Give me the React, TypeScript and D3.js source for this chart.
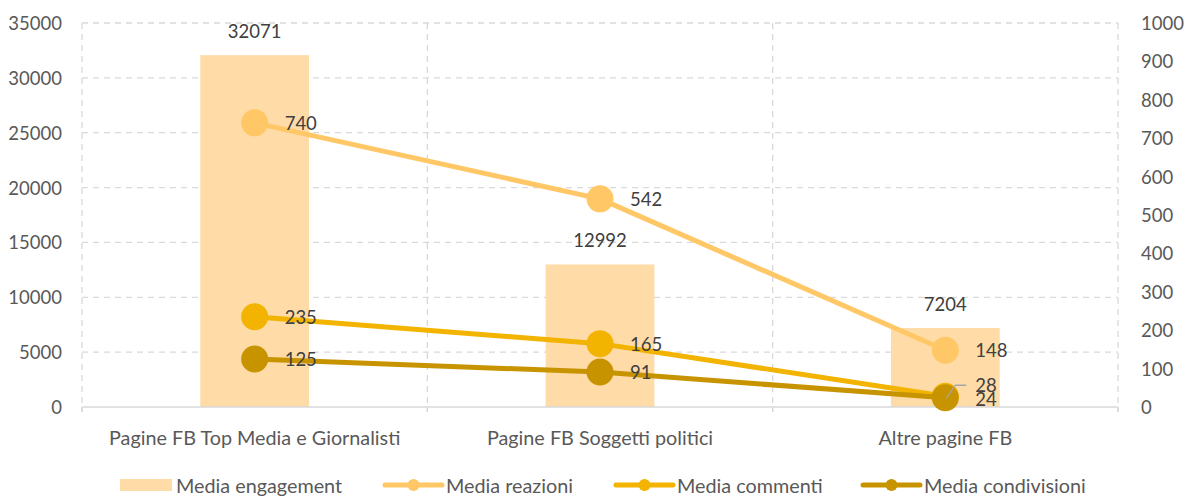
import React from "react";
import * as d3 from "d3";

const categories = ["Pagine FB Top Media e Giornalisti", "Pagine FB Soggetti politici", "Altre pagine FB"];
const engagement = [32071, 12992, 7204];
const reazioni = [740, 542, 148];
const commenti = [235, 165, 28];
const condivisioni = [125, 91, 24];
const leftTicks = [0, 5000, 10000, 15000, 20000, 25000, 30000, 35000];
const rightTicks = [0, 100, 200, 300, 400, 500, 600, 700, 800, 900, 1000];

const W = 1192, H = 496;
const M = { left: 82, right: 1118, top: 23, bottom: 407 };
const FONT = "Lato, 'Open Sans', sans-serif";
const NUM = 18.5;
const TXT = 19.8;
const C_BAR = "#FFDBA8";
const C_REA = "#FFC766";
const C_COM = "#F2B400";
const C_CON = "#C79400";

export default function App() {
  const x = d3.scaleBand<string>().domain(categories).range([M.left, M.right]).paddingInner(0).paddingOuter(0);
  const yL = d3.scaleLinear().domain([0, 35000]).range([M.bottom, M.top]);
  const yR = d3.scaleLinear().domain([0, 1000]).range([M.bottom, M.top]);
  const bw = x.bandwidth();
  const barW = bw * 0.315;
  const cx = (c: string) => (x(c) as number) + bw / 2;

  const series = [
    { name: "Media reazioni", vals: reazioni, color: C_REA },
    { name: "Media commenti", vals: commenti, color: C_COM },
    { name: "Media condivisioni", vals: condivisioni, color: C_CON },
  ];
  const line = d3.line<number>().x((_, i) => cx(categories[i])).y((v) => yR(v));

  const boundaries = [M.left, ...categories.map((c) => (x(c) as number) + bw)];

  return (
    <svg width={W} height={H} style={{ position: "absolute", left: 0, top: 0, background: "#fff" }}>
      {leftTicks.filter((t) => t > 0).map((t) => (
        <line key={t} x1={M.left} x2={M.right} y1={yL(t)} y2={yL(t)} stroke="#D9D9D9" strokeWidth={1.3} strokeDasharray="6,5" />
      ))}
      {boundaries.map((b, i) => (
        <line key={i} x1={b} x2={b} y1={M.top} y2={M.bottom + 5} stroke="#D9D9D9" strokeWidth={1.3} strokeDasharray="6,5" />
      ))}
      {categories.map((c, i) => (
        <rect key={c} x={cx(c) - barW / 2} y={yL(engagement[i])} width={barW} height={M.bottom - yL(engagement[i])} fill={C_BAR} />
      ))}
      <line x1={M.left} x2={M.right} y1={M.bottom} y2={M.bottom} stroke="#D9D9D9" strokeWidth={1.5} />
      {boundaries.map((b, i) => (
        <line key={"t" + i} x1={b} x2={b} y1={M.bottom} y2={M.bottom + 5} stroke="#D9D9D9" strokeWidth={1.3} />
      ))}
      {categories.map((c, i) => (
        <text key={"bl" + c} x={cx(c)} y={yL(engagement[i]) - 24} textAnchor="middle" dominantBaseline="central" fontFamily={FONT} fontSize={NUM} fill="#404040">
          {engagement[i]}
        </text>
      ))}
      {series.map((s) => (
        <g key={s.name}>
          <path d={line(s.vals) as string} fill="none" stroke={s.color} strokeWidth={5} strokeLinejoin="round" />
          {s.vals.map((v, i) => (
            <circle key={i} cx={cx(categories[i])} cy={yR(v)} r={13.5} fill={s.color} />
          ))}
        </g>
      ))}
      {series.map((s, si) =>
        s.vals.map((v, i) => {
          const lx = cx(categories[i]) + 30;
          let ly = yR(v);
          if (i === 2 && si === 1) ly = yR(v) - 11;
          if (i === 2 && si === 2) ly = yR(v) + 1;
          return (
            <text key={s.name + i} x={lx} y={ly} dominantBaseline="central" fontFamily={FONT} fontSize={NUM} fill="#404040">
              {v}
            </text>
          );
        })
      )}
      <polyline
        points={`${cx(categories[2]) + 1},${yR(commenti[2]) + 2} ${cx(categories[2]) + 10},${yR(commenti[2]) - 11} ${cx(categories[2]) + 21},${yR(commenti[2]) - 11}`}
        fill="none" stroke="#A6A6A6" strokeWidth={1.3}
      />
      {leftTicks.map((t) => (
        <text key={"l" + t} x={62} y={yL(t)} textAnchor="end" dominantBaseline="central" fontFamily={FONT} fontSize={NUM} fill="#595959">
          {t}
        </text>
      ))}
      {rightTicks.map((t) => (
        <text key={"r" + t} x={1141} y={yR(t)} textAnchor="start" dominantBaseline="central" fontFamily={FONT} fontSize={NUM} fill="#595959">
          {t}
        </text>
      ))}
      {categories.map((c) => (
        <text key={"c" + c} x={cx(c)} y={437} textAnchor="middle" dominantBaseline="central" fontFamily={FONT} fontSize={TXT} fill="#595959">
          {c}
        </text>
      ))}
      <g fontFamily={FONT} fontSize={TXT} fill="#595959">
        <rect x={120} y={479} width={52} height={12} fill={C_BAR} />
        <text x={176} y={485} dominantBaseline="central">Media engagement</text>
        {series.map((s, i) => {
          const lx0 = [385, 616, 863][i];
          return (
            <g key={"lg" + s.name}>
              <line x1={lx0} x2={lx0 + 57} y1={485} y2={485} stroke={s.color} strokeWidth={5} strokeLinecap="round" />
              <circle cx={lx0 + 28.5} cy={485} r={6} fill={s.color} />
              <text x={lx0 + 61} y={485} dominantBaseline="central">{s.name}</text>
            </g>
          );
        })}
      </g>
    </svg>
  );
}
